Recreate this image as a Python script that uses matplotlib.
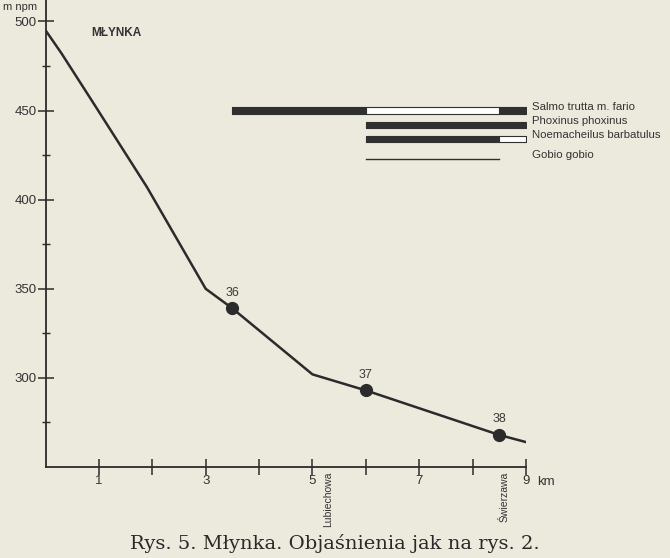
import matplotlib.pyplot as plt
import numpy as np

# river profile (km from source, altitude m npm)
km = [0, 0.3, 0.9, 1.9, 3.0, 3.5, 5.0, 6.0, 8.5, 9.0]
alt = [495, 482, 454, 407, 350, 339, 302, 293, 268, 264]

# sampling stations
st_km = [3.5, 6.0, 8.5]
st_alt = [339, 293, 268]
st_names = ['36', '37', '38']

# fish ranges: (start, end) pairs, dark = present, light = rare
species = ['Salmo trutta m. fario', 'Phoxinus phoxinus',
           'Noemacheilus barbatulus', 'Gobio gobio']
sp_y = [450, 442, 434, 423]
sp_dark = [[(3.5, 6.0), (8.5, 9.0)], [(6.0, 9.0)], [(6.0, 8.5)], []]
sp_white = [[(6.0, 8.5)], [], [(8.5, 9.0)], []]
sp_line = [None, None, None, (6.0, 8.5)]

places = ['Lubiechowa', 'Świerzawa']
place_km = [5.3, 8.6]

paper = '#ece9dd'
ink = '#2b2b2b'
plt.rcParams['font.family'] = ['Liberation Sans', 'DejaVu Sans']

fig = plt.figure(figsize=(6.7, 5.58), dpi=100, facecolor=paper)
ax = fig.add_axes([0.068, 0.163, 0.717, 0.837])
ax.set_facecolor(paper)

ax.plot(km, alt, color=ink, lw=1.8, zorder=3)
ax.plot(st_km, st_alt, 'o', color=ink, ms=8.5, zorder=4)
for x, y, s in zip(st_km, st_alt, st_names):
    ax.annotate(s, (x, y), xytext=(0, 7), textcoords='offset points',
                ha='center', va='bottom', fontsize=9, color='#3a3a3a')

h = 3.4
for i in range(len(species)):
    y = sp_y[i]
    for a, b in sp_dark[i]:
        ax.broken_barh([(a, b - a)], (y - h / 2, h), facecolors='#303030',
                       edgecolor='#303030', lw=0.8)
    for a, b in sp_white[i]:
        ax.broken_barh([(a, b - a)], (y - h / 2, h), facecolors='white',
                       edgecolor='#303030', lw=0.8)
    if sp_line[i] is not None:
        ax.plot(sp_line[i], [y, y], color='#303030', lw=1.0)
    ax.text(9.12, y + 2, species[i], fontsize=8.2, color='#333', va='center')

ax.text(1.33, 493.5, 'MŁYNKA', fontsize=8.5, color='#333', ha='center',
        va='center', fontweight='bold')

ax.set_xlim(0, 9)
ax.set_ylim(250, 512)
ax.spines['top'].set_visible(False)
ax.spines['right'].set_visible(False)
for s in ['left', 'bottom']:
    ax.spines[s].set_color(ink)
    ax.spines[s].set_linewidth(1.3)

ax.set_xticks(np.arange(1, 10))
ax.set_xticklabels(['1', '', '3', '', '5', '', '7', '', '9'])
ax.set_yticks([300, 350, 400, 450, 500])
ax.set_yticks([275, 325, 375, 425, 475], minor=True)
ax.tick_params(axis='both', which='major', direction='inout', length=11,
               width=1.1, color=ink, labelsize=9.5, labelcolor='#333')
ax.tick_params(axis='x', pad=0)
ax.tick_params(axis='y', which='major', pad=1)
ax.tick_params(axis='y', which='minor', direction='inout', length=6,
               width=1.0, color=ink)
ax.text(9.2, 244.7, 'km', fontsize=9.5, color='#333', ha='left', va='top',
        clip_on=False)

for name, x in zip(places, place_km):
    ax.text(x, 247.5, name, rotation=90, fontsize=7.5, color='#333',
            ha='center', va='top', clip_on=False)

fig.text(0.004, 0.997, 'm npm', fontsize=8, color='#333', ha='left', va='top')
fig.text(0.5, 0.026, 'Rys. 5. Młynka. Objaśnienia jak na rys. 2.',
         family='DejaVu Serif', fontsize=14, color='#2a2a2a', ha='center',
         va='center')

fig.savefig('out.png', dpi=100, facecolor=paper)
